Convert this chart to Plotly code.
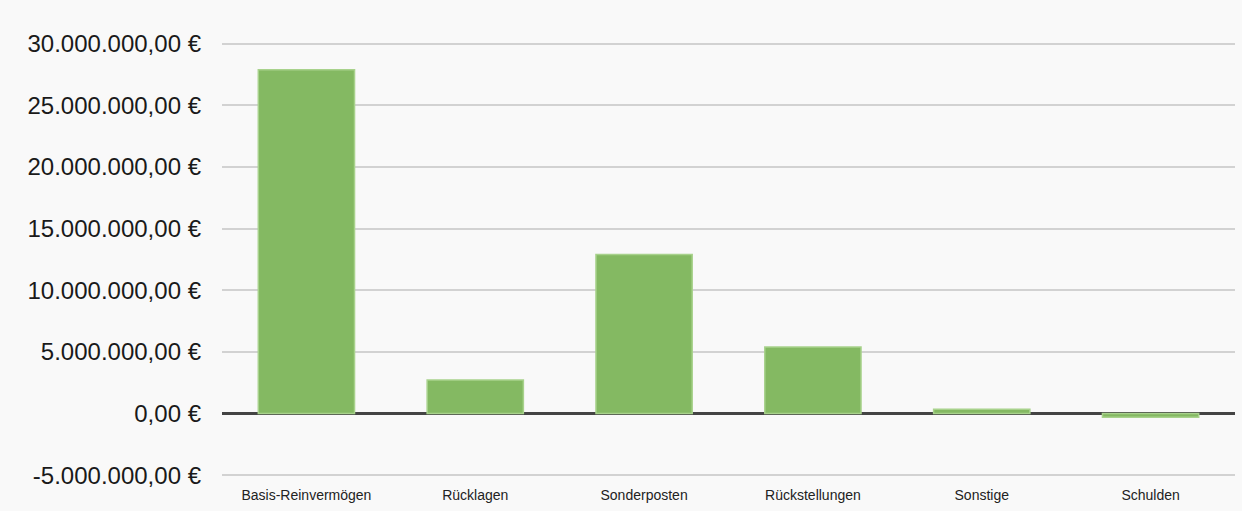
import plotly.graph_objects as go

categories = ["Basis-Reinvermögen", "Rücklagen", "Sonderposten", "Rückstellungen", "Sonstige", "Schulden"]
values = [27900000, 2730000, 12900000, 5400000, 350000, -300000]
y_tickvals = [-5000000, 0, 5000000, 10000000, 15000000, 20000000, 25000000, 30000000]
y_ticktext = ["-5.000.000,00 €", "0,00 €", "5.000.000,00 €", "10.000.000,00 €",
              "15.000.000,00 €", "20.000.000,00 €", "25.000.000,00 €", "30.000.000,00 €"]

fig = go.Figure()
fig.add_trace(go.Bar(
    x=categories, y=values, width=0.57,
    marker=dict(color="rgb(132,185,98)", line=dict(color="rgb(168,210,140)", width=1.5)),
    hoverinfo="x+y",
))

fig.update_layout(
    width=1242, height=511,
    margin=dict(l=222, r=7, t=42, b=34),
    paper_bgcolor="#f9f9f9", plot_bgcolor="#f9f9f9",
    font=dict(family="Liberation Sans, Arial, sans-serif", color="#222"),
    showlegend=False,
    bargap=0.43,
    xaxis=dict(
        showgrid=False, showline=False, ticks="",
        tickfont=dict(size=14, color="#222"),
        ticklabelstandoff=8,
    ),
    yaxis=dict(
        range=[-5150000, 30150000],
        tickvals=y_tickvals, ticktext=y_ticktext,
        tickfont=dict(size=24, color="#1a1a1a"),
        showgrid=True, gridcolor="#d2d2d2", gridwidth=1.5,
        zeroline=True, zerolinecolor="#444444", zerolinewidth=3,
        showline=False, ticks="",
        ticklabelstandoff=20,
    ),
)

fig.write_html("out.html")
